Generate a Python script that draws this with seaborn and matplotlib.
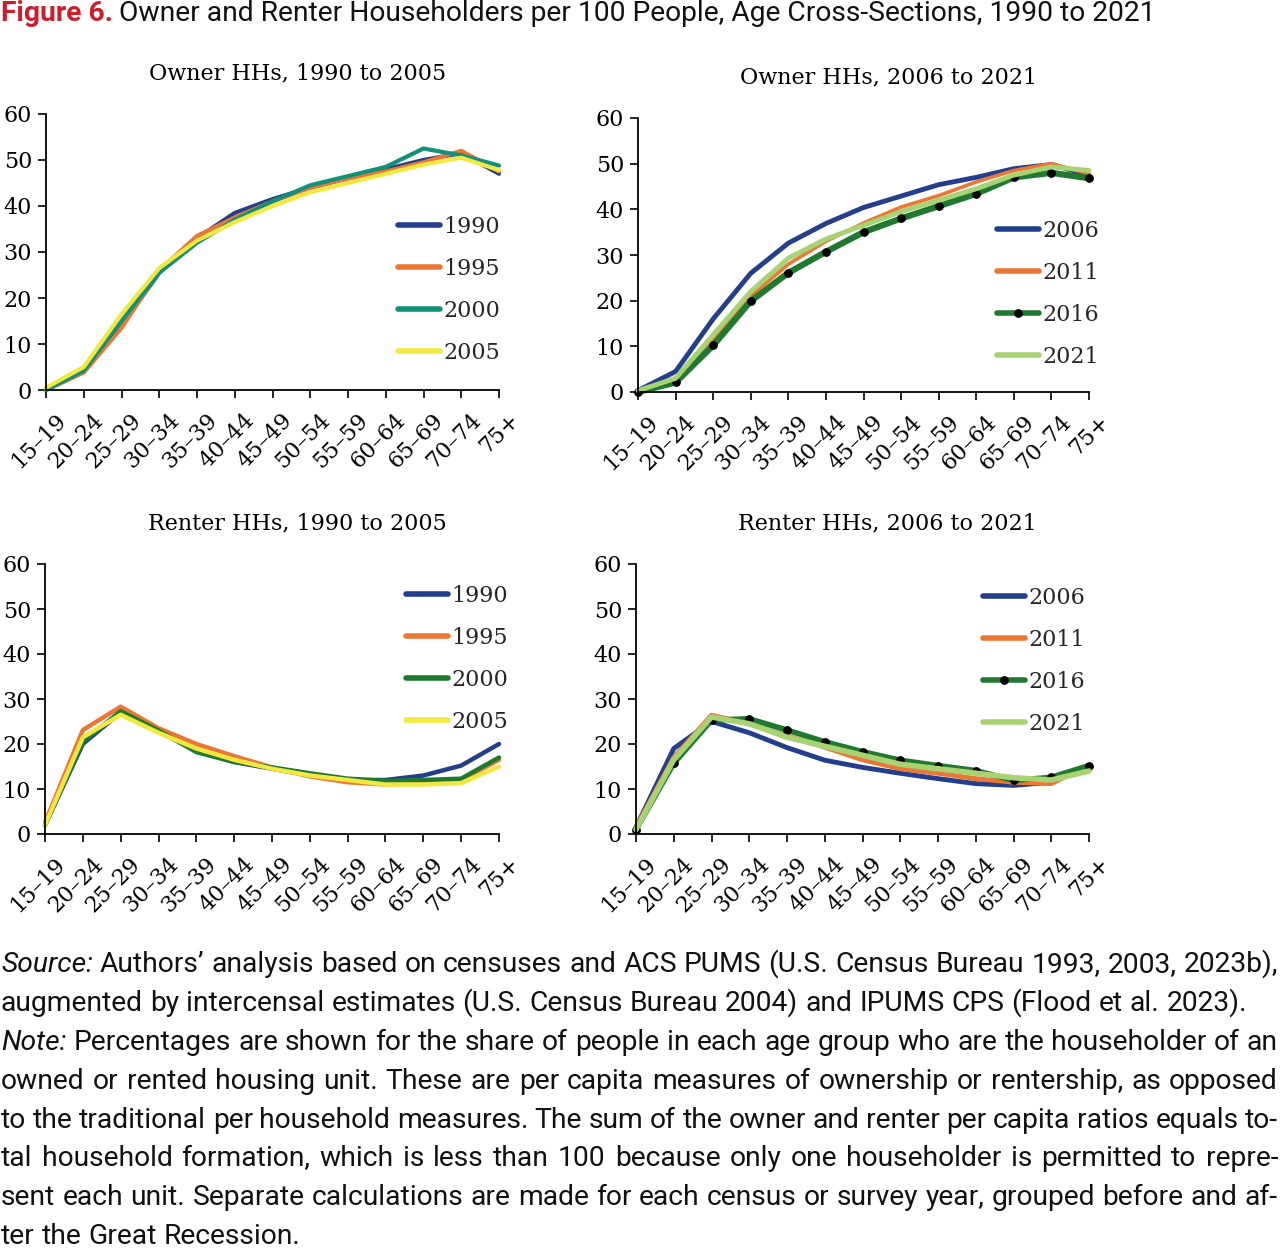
import numpy as np
import pandas as pd
import matplotlib.pyplot as plt
import seaborn as sns
from matplotlib.transforms import ScaledTranslation

# age groups on the x axis
AGES = ["15–19", "20–24", "25–29", "30–34", "35–39", "40–44", "45–49",
        "50–54", "55–59", "60–64", "65–69", "70–74", "75+"]

# owner householders per 100 people, 1990 to 2005
OWN_1990 = [0.0, 4.0, 14.0, 25.5, 33.0, 38.5, 41.5, 44.0, 46.0, 48.0, 50.0, 51.5, 47.0]
OWN_1995 = [0.0, 3.8, 13.5, 26.0, 33.5, 37.5, 41.0, 44.0, 46.0, 47.5, 49.5, 52.0, 47.5]
OWN_2000 = [0.0, 4.2, 15.0, 25.5, 32.0, 37.0, 41.0, 44.5, 46.5, 48.5, 52.5, 51.0, 48.8]
OWN_2005 = [0.5, 5.0, 16.5, 26.5, 32.5, 36.5, 40.0, 43.0, 45.0, 47.0, 49.0, 50.5, 47.8]

# owner householders per 100 people, 2006 to 2021
OWN_2006 = [0.3, 4.5, 16.0, 26.0, 32.6, 36.9, 40.4, 42.9, 45.4, 47.0, 48.9, 49.8, 47.5]
OWN_2011 = [0.2, 2.5, 11.5, 21.0, 28.0, 33.0, 37.0, 40.5, 43.0, 46.0, 48.5, 50.0, 47.8]
OWN_2016 = [0.0, 2.1, 10.2, 19.9, 26.1, 30.7, 35.0, 38.0, 40.7, 43.4, 47.0, 48.0, 46.8]
OWN_2021 = [0.3, 3.0, 12.5, 22.0, 29.3, 33.5, 36.5, 39.5, 42.0, 44.5, 47.5, 49.3, 48.5]

# renter householders per 100 people, 1990 to 2005
RENT_1990 = [2.0, 20.0, 27.0, 23.0, 18.5, 16.0, 14.5, 13.0, 12.0, 12.0, 13.0, 15.2, 20.0]
RENT_1995 = [2.5, 23.1, 28.3, 23.5, 20.0, 17.3, 14.8, 12.8, 11.5, 11.0, 11.5, 12.0, 16.5]
RENT_2000 = [2.0, 20.5, 27.3, 23.0, 18.2, 16.0, 14.8, 13.5, 12.3, 11.8, 12.0, 12.3, 17.0]
RENT_2005 = [2.0, 21.5, 26.5, 22.5, 19.0, 16.5, 14.5, 13.0, 12.0, 11.0, 11.0, 11.3, 15.0]

# renter householders per 100 people, 2006 to 2021
RENT_2006 = [1.5, 19.0, 25.0, 22.5, 19.2, 16.4, 14.8, 13.5, 12.3, 11.2, 10.8, 11.5, 15.0]
RENT_2011 = [1.5, 17.0, 26.4, 24.5, 21.8, 19.3, 16.5, 14.5, 13.5, 12.3, 11.5, 11.2, 15.3]
RENT_2016 = [1.0, 15.7, 25.3, 25.6, 23.1, 20.5, 18.3, 16.4, 15.2, 14.1, 11.9, 12.6, 15.2]
RENT_2021 = [1.0, 16.5, 26.0, 24.5, 21.5, 19.5, 17.5, 15.5, 14.5, 13.5, 12.5, 12.0, 14.0]

NAVY = "#233f8c"
ORANGE = "#ec7633"
TEAL = "#12917a"
YELLOW = "#f3e840"
DKGREEN = "#1f7a30"
LTGREEN = "#a7d372"
RED = "#c8202f"

SERIF = "DejaVu Serif"
SANS = "Roboto"

W, H = 1280, 1250

sns.set_theme(style="ticks")
plt.rcParams["font.family"] = [SERIF, "DejaVu Sans"]

fig = plt.figure(figsize=(W / 100, H / 100), dpi=100)

# nudge rotated age labels right and down, as in the printed figure
label_shift = ScaledTranslation(9 / 100, -5 / 100, fig.dpi_scale_trans)


def fx(x):
    return x / W


def fy(y):
    return 1 - y / H


def px_axes(x0, y0, x1, y1):
    return fig.add_axes([fx(x0), fy(y1), (x1 - x0) / W, (y1 - y0) / H])


def draw_panel(ax, series, title, title_xy, legend_xy):
    for label, values, color, lw, dots in series:
        df = pd.DataFrame({"pos": np.arange(len(AGES)), "val": values})
        kw = {}
        if dots:
            kw = dict(marker="o", markersize=5.5, markerfacecolor="black",
                      markeredgecolor="black")
        sns.lineplot(data=df, x="pos", y="val", color=color, linewidth=lw,
                     label=label, ax=ax, clip_on=False, **kw)
    ax.set_xlim(0, len(AGES) - 1)
    ax.set_ylim(0, 60)
    ax.set_yticks(range(0, 61, 10))
    ax.set_xticks(range(len(AGES)))
    ax.set_xlabel("")
    ax.set_ylabel("")
    ax.tick_params(axis="both", labelsize=16, length=6, width=1.2,
                   color="black", labelcolor="black", direction="out")
    ax.tick_params(axis="x", pad=4)
    ax.tick_params(axis="y", pad=4)
    ax.set_xticklabels(AGES, rotation=45, ha="right", va="top",
                       rotation_mode="anchor")
    for tick in ax.xaxis.get_major_ticks():
        tick.label1.set_transform(tick.label1.get_transform() + label_shift)
    sns.despine(ax=ax)
    for s in ("left", "bottom"):
        ax.spines[s].set_color("black")
        ax.spines[s].set_linewidth(1.3)
    ax.set_facecolor("white")
    handles, labels = ax.get_legend_handles_labels()
    leg = ax.legend(handles, labels, loc="upper left", frameon=False,
                    bbox_to_anchor=(fx(legend_xy[0]), fy(legend_xy[1])),
                    bbox_transform=fig.transFigure, borderaxespad=0,
                    borderpad=0, fontsize=16, handlelength=1.9,
                    handletextpad=0.15, labelspacing=0.9)
    for h in leg.legend_handles:
        h.set_linewidth(4.0)
        h.set_solid_capstyle("round")
    fig.text(fx(title_xy[0]), fy(title_xy[1]), title, ha="center",
             va="center", fontsize=16, color="black")


ax1 = px_axes(46, 114, 499, 390)
draw_panel(ax1, [("1990", OWN_1990, NAVY, 3.0, False),
                 ("1995", OWN_1995, ORANGE, 3.0, False),
                 ("2000", OWN_2000, TEAL, 3.0, False),
                 ("2005", OWN_2005, YELLOW, 3.0, False)],
           "Owner HHs, 1990 to 2005", (298, 73), (398, 216))

ax2 = px_axes(638, 118, 1089, 392)
draw_panel(ax2, [("2006", OWN_2006, NAVY, 3.5, False),
                 ("2011", OWN_2011, ORANGE, 2.6, False),
                 ("2016", OWN_2016, DKGREEN, 4.5, True),
                 ("2021", OWN_2021, LTGREEN, 3.5, False)],
           "Owner HHs, 2006 to 2021", (889, 77), (997, 220))

ax3 = px_axes(45, 564, 499, 834)
draw_panel(ax3, [("1990", RENT_1990, NAVY, 3.2, False),
                 ("1995", RENT_1995, ORANGE, 3.2, False),
                 ("2000", RENT_2000, DKGREEN, 3.2, False),
                 ("2005", RENT_2005, YELLOW, 3.2, False)],
           "Renter HHs, 1990 to 2005", (297, 523), (406, 585))

ax4 = px_axes(636, 564, 1089, 834)
draw_panel(ax4, [("2006", RENT_2006, NAVY, 3.5, False),
                 ("2011", RENT_2011, ORANGE, 3.5, False),
                 ("2016", RENT_2016, DKGREEN, 4.0, True),
                 ("2021", RENT_2021, LTGREEN, 4.0, False)],
           "Renter HHs, 2006 to 2021", (887, 523), (983, 587))

renderer = fig.canvas.get_renderer()


def text_width(t):
    return t.get_window_extent(renderer=renderer).width


# title: red bold label then regular text
TITLE_TAG = "Figure 6."
TITLE_REST = "Owner and Renter Householders per 100 People, Age Cross-Sections, 1990 to 2021"
t_probe = fig.text(0, 0, TITLE_TAG + " " + TITLE_REST, fontsize=18, family=SANS)
title_size = 18 * 1152 / text_width(t_probe)
t_probe.remove()
t_tag = fig.text(fx(1), fy(21), TITLE_TAG, fontsize=title_size, family=SANS,
                 fontweight="bold", color=RED, va="baseline")
tag_w = text_width(t_tag)
fig.text(fx(1 + tag_w + title_size * 0.3), fy(21), TITLE_REST,
         fontsize=title_size, family=SANS, color="#111111", va="baseline")

# notes, justified like the printed page
NOTE_LINES = [
    ([("Source:", "italic")], "Authors’ analysis based on censuses and ACS PUMS (U.S. Census Bureau 1993, 2003, 2023b),", True),
    ([], "augmented by intercensal estimates (U.S. Census Bureau 2004) and IPUMS CPS (Flood et al. 2023).", False),
    ([("Note:", "italic")], "Percentages are shown for the share of people in each age group who are the householder of an", True),
    ([], "owned or rented housing unit. These are per capita measures of ownership or rentership, as opposed", True),
    ([], "to the traditional per household measures. The sum of the owner and renter per capita ratios equals to-", True),
    ([], "tal household formation, which is less than 100 because only one householder is permitted to repre-", True),
    ([], "sent each unit. Separate calculations are made for each census or survey year, grouped before and af-", True),
    ([], "ter the Great Recession.", False),
]

probe = fig.text(0, 0, NOTE_LINES[1][1], fontsize=18, family=SANS)
note_size = 18 * 1248 / text_width(probe)
probe.remove()
p1 = fig.text(0, 0, "x x", fontsize=note_size, family=SANS)
p2 = fig.text(0, 0, "xx", fontsize=note_size, family=SANS)
space_w = text_width(p1) - text_width(p2)
p1.remove()
p2.remove()

x_left, x_right = 1, 1278
for i, (lead, rest, justify) in enumerate(NOTE_LINES):
    y = 972 + i * 38.9
    words = lead + [(w, "normal") for w in rest.split(" ")]
    arts = []
    for w, st in words:
        arts.append(fig.text(0, fy(y), w, fontsize=note_size, family=SANS,
                             fontstyle=st, color="#111111", va="baseline"))
    widths = [text_width(a) for a in arts]
    if justify:
        gap = (x_right - x_left - sum(widths)) / (len(arts) - 1)
    else:
        gap = space_w
    x = x_left
    for a, wd in zip(arts, widths):
        a.set_x(fx(x))
        x += wd + gap

fig.savefig("out.png", dpi=100, facecolor="white")
